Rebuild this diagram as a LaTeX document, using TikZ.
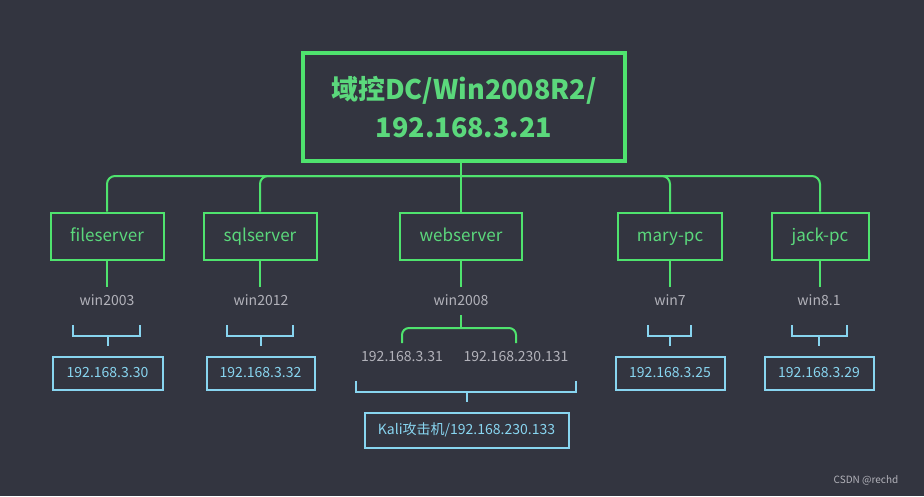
\documentclass[tikz,border=0pt]{standalone}
\usepackage{fontspec}
\setmainfont{Noto Sans CJK SC}
\definecolor{bg}{HTML}{333540}
\definecolor{gl}{HTML}{4FE36E}
\definecolor{gt}{HTML}{5BD87C}
\definecolor{cy}{HTML}{88D5F0}
\definecolor{gr}{HTML}{B2B2BA}
\begin{document}
\begin{tikzpicture}[x=1pt,y=-1pt,
  gline/.style={draw=gl,line width=2pt},
  cline/.style={draw=cy,line width=2pt},
  hostbox/.style={draw=gl,line width=2pt,minimum height=47pt,inner sep=0pt,text=gt,text height=13.5pt,text depth=2pt,font=\fontsize{17}{20}\selectfont},
  ipbox/.style={draw=cy,line width=2pt,minimum height=33pt,inner sep=0pt,text=cy,text height=11pt,text depth=2pt,font=\fontsize{14}{16}\selectfont},
  oslabel/.style={text=gr,inner sep=0pt,text height=11pt,text depth=2pt,font=\fontsize{14}{16}\selectfont}]
\fill[bg] (0,0) rectangle (924,496);
\useasboundingbox (0,0) rectangle (924,496);
% root
\node[draw=gl,line width=4pt,minimum width=322pt,minimum height=108pt,inner sep=0pt,text=gt,align=center,
  font=\bfseries\fontsize{27}{38}\selectfont] (root) at (464,107) {域控DC/Win2008R2/\\192.168.3.21};
% hosts
\node[hostbox,minimum width=113pt] (fs) at (107,236) {fileserver};
\node[hostbox,minimum width=113pt] (sql) at (260,236) {sqlserver};
\node[hostbox,minimum width=122pt] (web) at (461,236) {webserver};
\node[hostbox,minimum width=104pt] (mary) at (670,236) {mary-pc};
\node[hostbox,minimum width=97pt] (jack) at (820,236) {jack-pc};
% bus
\coordinate (bus) at (461,176);
\draw[gline] (root.south -| bus) -- (web.north);
\draw[gline,rounded corners=8pt] (bus) -- (bus -| fs.north) -- (fs.north);
\draw[gline,rounded corners=8pt] (bus) -- (bus -| sql.north) -- (sql.north);
\draw[gline,rounded corners=8pt] (bus) -- (bus -| mary.north) -- (mary.north);
\draw[gline,rounded corners=8pt] (bus) -- (bus -| jack.north) -- (jack.north);
% os labels
\node[oslabel] (fsos) at (107,301) {win2003};
\node[oslabel] (sqlos) at (261,301) {win2012};
\node[oslabel] (webos) at (461,301) {win2008};
\node[oslabel] (maryos) at (670,301) {win7};
\node[oslabel] (jackos) at (819,301) {win8.1};
\foreach \n in {fs,sql,web,mary,jack}{
  \coordinate (\n l) at (\n.south |- 0,287);
  \draw[gline] (\n.south) -- (\n l);
}
% ip boxes
\node[ipbox,minimum width=110pt] (fsip) at (107.5,373) {192.168.3.30};
\node[ipbox,minimum width=108pt] (sqlip) at (260.5,373) {192.168.3.32};
\node[ipbox,minimum width=109pt] (maryip) at (670,373) {192.168.3.25};
\node[ipbox,minimum width=109pt] (jackip) at (819,373) {192.168.3.29};
\node[ipbox,minimum width=204pt,minimum height=35pt] (kali) at (466.5,430) {Kali攻击机/192.168.230.133};
% cyan brackets
\draw[cline] (73,325) -- (73,336) -- (140,336) -- (140,325);
\draw[cline] (fsip.north |- 0,336) -- (fsip.north |- 0,346);
\draw[cline] (227,325) -- (227,336) -- (293,336) -- (293,325);
\draw[cline] (sqlip.north |- 0,336) -- (sqlip.north |- 0,346);
\draw[cline] (648,325) -- (648,336) -- (691,336) -- (691,325);
\draw[cline] (maryip.north |- 0,336) -- (maryip.north |- 0,346);
\draw[cline] (792,325) -- (792,336) -- (847,336) -- (847,325);
\draw[cline] (jackip.north |- 0,336) -- (jackip.north |- 0,346);
\draw[cline] (356,381) -- (356,392) -- (576,392) -- (576,381);
\draw[cline] (kali.north |- 0,392) -- (kali.north |- 0,402);
% webserver interfaces
\node[oslabel] (ipa) at (402,357) {192.168.3.31};
\node[oslabel] (ipb) at (516,357) {192.168.230.131};
\coordinate (wj) at (461,328);
\draw[gline] (webos.south |- 0,315) -- (wj);
\draw[gline,rounded corners=7pt] (wj) -| (ipa.north |- 0,343);
\draw[gline,rounded corners=7pt] (wj) -| (ipb.north |- 0,343);
% watermark
\node[text=gr,inner sep=0pt,font=\fontsize{10}{12}\selectfont] (wm) at (866,480) {CSDN @rechd};
\end{tikzpicture}
\end{document}
